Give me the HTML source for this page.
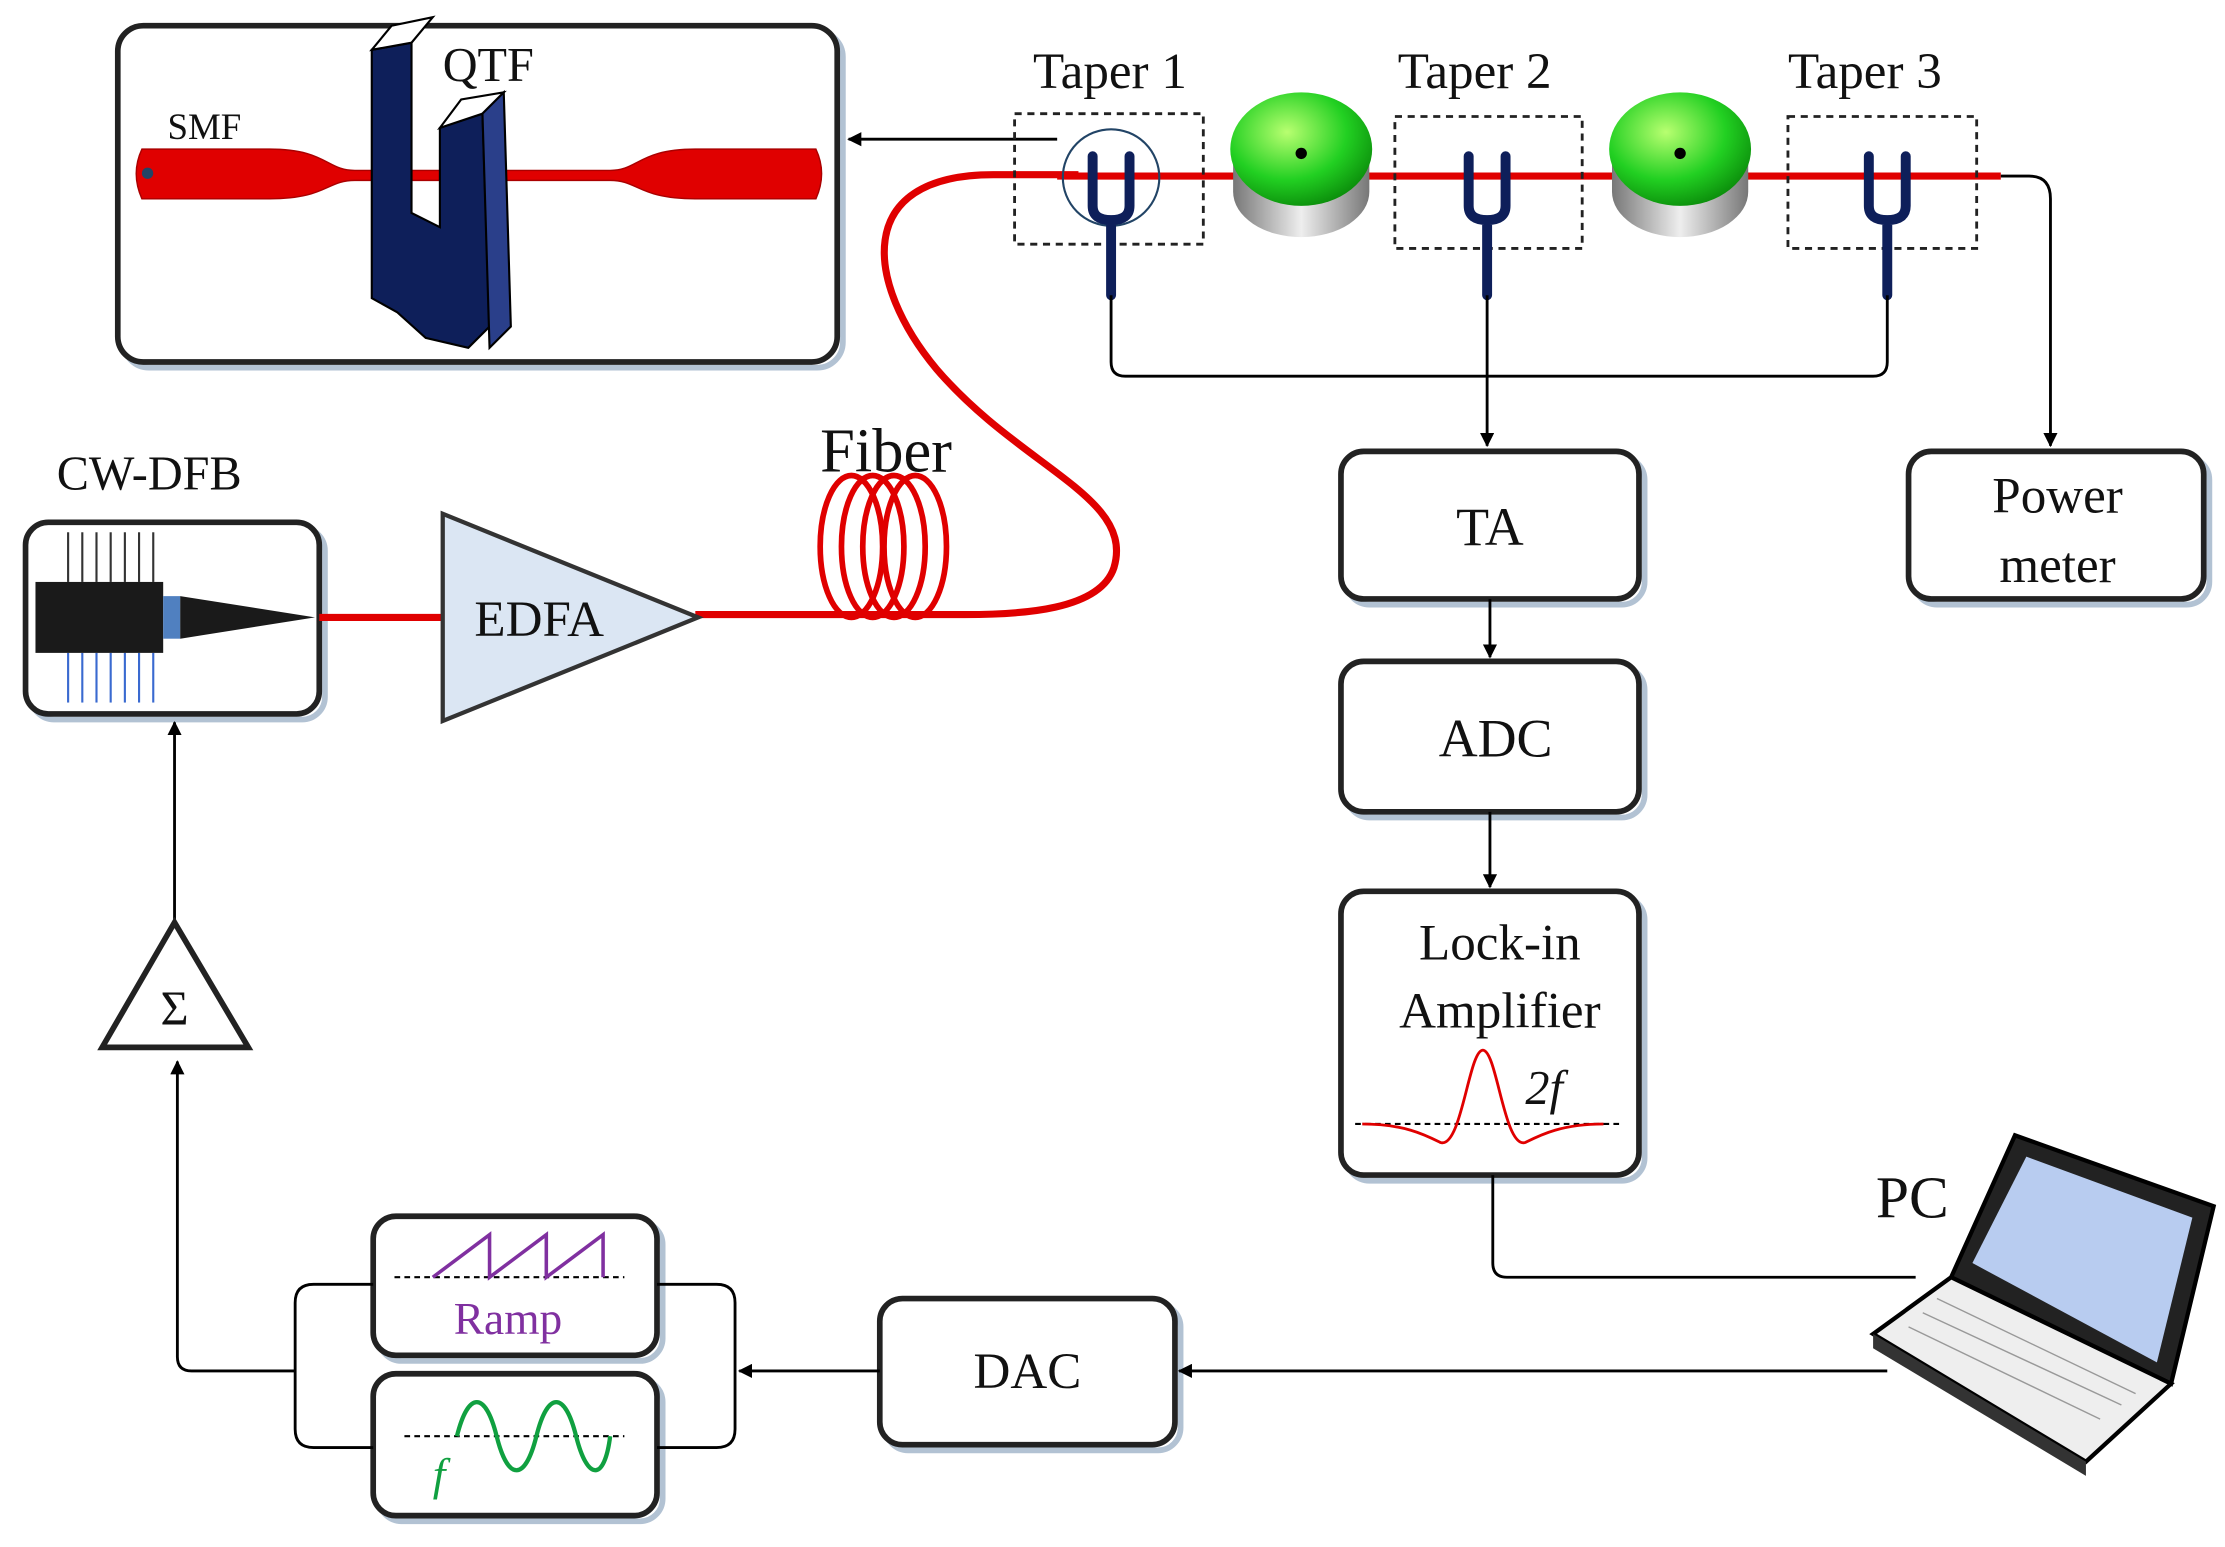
<!DOCTYPE html>
<html><head><meta charset="utf-8"><style>
html,body{margin:0;padding:0;background:#fff;width:2225px;height:1547px;overflow:hidden}
svg{display:block}
text{font-family:"Liberation Serif",serif;fill:#111}
</style></head><body>
<svg width="2225" height="1547" viewBox="0 0 1568 1090" xmlns="http://www.w3.org/2000/svg">
<defs>
<marker id="ar" markerWidth="10" markerHeight="10" refX="9" refY="5" orient="auto" markerUnits="userSpaceOnUse"><path d="M0,0 L10,5 L0,10 z" fill="#000"/></marker>
<radialGradient id="g" cx="0.4" cy="0.35" r="0.7"><stop offset="0" stop-color="#b8ff70"/><stop offset="0.6" stop-color="#22d022"/><stop offset="1" stop-color="#0a8a0a"/></radialGradient>
<linearGradient id="s" x1="0" x2="1"><stop offset="0" stop-color="#777"/><stop offset="0.5" stop-color="#eee"/><stop offset="1" stop-color="#777"/></linearGradient>
</defs>
<g fill="none" stroke="#9fb3c8" stroke-width="4" opacity="0.8">
<rect x="87" y="22" width="507" height="237" rx="18"/>
<rect x="949" y="322" width="210" height="104" rx="16"/>
<rect x="949" y="470" width="210" height="106" rx="16"/>
<rect x="949" y="632" width="210" height="200" rx="16"/>
<rect x="1349" y="322" width="208" height="104" rx="16"/>
<rect x="624" y="919" width="208" height="103" rx="16"/>
<rect x="22" y="372" width="207" height="135" rx="16"/>
<rect x="267" y="861" width="200" height="98" rx="16"/>
<rect x="267" y="972" width="200" height="100" rx="16"/>
</g>
<g fill="#fff" stroke="#222" stroke-width="4">
<rect x="83" y="18" width="507" height="237" rx="18"/>
<rect x="945" y="318" width="210" height="104" rx="16"/>
<rect x="945" y="466" width="210" height="106" rx="16"/>
<rect x="945" y="628" width="210" height="200" rx="16"/>
<rect x="1345" y="318" width="208" height="104" rx="16"/>
<rect x="620" y="915" width="208" height="103" rx="16"/>
<rect x="18" y="368" width="207" height="135" rx="16"/>
<rect x="263" y="857" width="200" height="98" rx="16"/>
<rect x="263" y="968" width="200" height="100" rx="16"/>
</g>
<path d="M100,105 H190 C230,105 230,120 250,120 H430 C450,120 450,105 490,105 H575 Q583,122 575,140 H490 C450,140 450,127 430,127 H250 C230,127 230,140 190,140 H100 Q92,122 100,105 z" fill="#e00000" stroke="#a00" stroke-width="1"/>
<ellipse cx="104" cy="122" rx="4" ry="4" fill="#246"/>
<path d="M262,35 L290,30 L290,150 L310,160 L310,90 L340,80 L345,230 L330,245 L300,238 L280,220 L262,210 z" fill="#0e1f5a" stroke="#000" stroke-width="1.5"/>
<path d="M262,35 L276,18 L305,12 L290,30 z M310,90 L325,70 L355,65 L340,80 z" fill="#fff" stroke="#000" stroke-width="1.5"/>
<path d="M340,80 L355,65 L360,230 L345,245 z" fill="#2a3f8a" stroke="#000" stroke-width="1.5"/>
<text x="118" y="98" font-size="26">SMF</text>
<text x="312" y="57" font-size="34">QTF</text>
<line x1="745" y1="98" x2="598" y2="98" stroke="#000" stroke-width="2" marker-end="url(#ar)"/>
<path d="M760,123 H700 C600,123 610,200 660,260 C720,330 800,350 785,400 C775,430 720,433 680,433 H490" fill="none" stroke="#e00000" stroke-width="5"/>
<line x1="225" y1="435" x2="315" y2="435" stroke="#e00000" stroke-width="5"/>
<g fill="none" stroke="#e00000" stroke-width="4">
<ellipse cx="600" cy="385" rx="22" ry="50"/><ellipse cx="615" cy="385" rx="22" ry="50"/><ellipse cx="630" cy="385" rx="22" ry="50"/><ellipse cx="645" cy="385" rx="22" ry="50"/>
</g>
<text x="578" y="332" font-size="44">Fiber</text>
<line x1="745" y1="124" x2="1410" y2="124" stroke="#e00000" stroke-width="5"/>
<g fill="none" stroke="#222" stroke-width="2" stroke-dasharray="5,4">
<rect x="715" y="80" width="133" height="92"/><rect x="983" y="82" width="132" height="93"/><rect x="1260" y="82" width="133" height="93"/>
</g>
<circle cx="783" cy="125" r="34" fill="none" stroke="#246" stroke-width="1.5"/>
<text x="728" y="62" font-size="36">Taper 1</text>
<text x="985" y="62" font-size="36">Taper 2</text>
<text x="1260" y="62" font-size="36">Taper 3</text>
<g>
<path d="M869,110 V135 A48,32 0 0 0 965,135 V110 z" fill="url(#s)"/>
<ellipse cx="917" cy="105" rx="50" ry="40" fill="url(#g)"/><circle cx="917" cy="108" r="4" fill="#000"/>
<path d="M1136,110 V135 A48,32 0 0 0 1232,135 V110 z" fill="url(#s)"/>
<ellipse cx="1184" cy="105" rx="50" ry="40" fill="url(#g)"/><circle cx="1184" cy="108" r="4" fill="#000"/>
</g>
<g fill="none" stroke="#0e1f5a" stroke-width="7" stroke-linecap="round">
<path d="M770,110 V145 Q770,155 783,155 Q796,155 796,145 V110 M783,155 V208"/>
<path d="M1035,110 V145 Q1035,155 1048,155 Q1061,155 1061,145 V110 M1048,155 V208"/>
<path d="M1317,110 V145 Q1317,155 1330,155 Q1343,155 1343,145 V110 M1330,155 V208"/>
</g>
<g fill="none" stroke="#000" stroke-width="2">
<path d="M783,208 V255 Q783,265 793,265 H1320 Q1330,265 1330,255 V208"/>
<line x1="1048" y1="208" x2="1048" y2="314" marker-end="url(#ar)"/>
<path d="M1410,124 H1430 Q1445,124 1445,140 V314" marker-end="url(#ar)"/>
<line x1="1050" y1="422" x2="1050" y2="463" marker-end="url(#ar)"/>
<line x1="1050" y1="572" x2="1050" y2="625" marker-end="url(#ar)"/>
<path d="M1052,828 V890 Q1052,900 1062,900 H1350"/>
<line x1="1330" y1="966" x2="831" y2="966" marker-end="url(#ar)"/>
<line x1="620" y1="966" x2="521" y2="966" marker-end="url(#ar)"/>
<path d="M463,905 H505 Q518,905 518,918 V1007 Q518,1020 505,1020 H463"/>
<path d="M263,905 H221 Q208,905 208,918 V1007 Q208,1020 221,1020 H263"/>
<path d="M208,966 H135 Q125,966 125,956 V748" marker-end="url(#ar)"/>
<line x1="123" y1="650" x2="123" y2="509" marker-end="url(#ar)"/>
</g>
<text x="1050" y="384" font-size="38" text-anchor="middle">TA</text>
<text x="1054" y="533" font-size="38" text-anchor="middle">ADC</text>
<text x="1057" y="676" font-size="36" text-anchor="middle">Lock-in</text>
<text x="1057" y="724" font-size="36" text-anchor="middle">Amplifier</text>
<text x="1450" y="361" font-size="36" text-anchor="middle">Power</text>
<text x="1450" y="410" font-size="36" text-anchor="middle">meter</text>
<text x="724" y="978" font-size="36" text-anchor="middle">DAC</text>
<text x="40" y="345" font-size="34">CW-DFB</text>
<text x="1322" y="858" font-size="42">PC</text>
<line x1="955" y1="792" x2="1143" y2="792" stroke="#000" stroke-width="1.5" stroke-dasharray="4,3"/>
<path d="M960,792 C990,792 1005,800 1015,805 C1030,810 1035,740 1045,740 C1055,740 1060,810 1075,805 C1085,800 1100,792 1130,792" fill="none" stroke="#e00000" stroke-width="2"/>
<text x="1075" y="778" font-size="34" font-style="italic">2f</text>
<line x1="278" y1="900" x2="440" y2="900" stroke="#000" stroke-width="1.5" stroke-dasharray="4,3"/>
<path d="M305,900 L345,870 V900 L385,870 V900 L425,870 V900" fill="none" stroke="#8030a0" stroke-width="2.5"/>
<text x="358" y="940" font-size="32" text-anchor="middle" style="fill:#8030a0">Ramp</text>
<line x1="285" y1="1012" x2="440" y2="1012" stroke="#000" stroke-width="1.5" stroke-dasharray="4,3"/>
<path d="M322,1012 C330,980 342,980 350,1012 C358,1044 370,1044 378,1012 C386,980 398,980 406,1012 C414,1044 426,1044 430,1012" fill="none" stroke="#10a040" stroke-width="3"/>
<text x="305" y="1050" font-size="32" font-style="italic" style="fill:#10a040">f</text>
<path d="M72,738 L175,738 L123,650 z" fill="#fff" stroke="#222" stroke-width="4"/>
<text x="123" y="722" font-size="34" text-anchor="middle">Σ</text>
<path d="M312,362 L312,508 L492,435 z" fill="#dbe6f3" stroke="#333" stroke-width="3"/>
<text x="380" y="448" font-size="36" text-anchor="middle">EDFA</text>
<g stroke="#333" stroke-width="1.5">
<line x1="48" y1="375" x2="48" y2="410"/><line x1="58" y1="375" x2="58" y2="410"/><line x1="68" y1="375" x2="68" y2="410"/><line x1="78" y1="375" x2="78" y2="410"/><line x1="88" y1="375" x2="88" y2="410"/><line x1="98" y1="375" x2="98" y2="410"/><line x1="108" y1="375" x2="108" y2="410"/>
</g>
<g stroke="#3a6ad0" stroke-width="1.5">
<line x1="48" y1="460" x2="48" y2="495"/><line x1="58" y1="460" x2="58" y2="495"/><line x1="68" y1="460" x2="68" y2="495"/><line x1="78" y1="460" x2="78" y2="495"/><line x1="88" y1="460" x2="88" y2="495"/><line x1="98" y1="460" x2="98" y2="495"/><line x1="108" y1="460" x2="108" y2="495"/>
</g>
<rect x="25" y="410" width="90" height="50" fill="#1a1a1a"/>
<rect x="115" y="420" width="12" height="30" fill="#5080c0"/>
<path d="M127,420 L222,435 L127,450 z" fill="#1a1a1a"/>
<path d="M1375,900 L1420,800 L1560,850 L1530,975 z" fill="#222" stroke="#000" stroke-width="3"/>
<path d="M1390,890 L1428,815 L1545,858 L1520,960 z" fill="#b8ccf0"/>
<path d="M1320,940 L1375,900 L1530,975 L1470,1030 z" fill="#eee" stroke="#000" stroke-width="3"/>
<path d="M1320,940 L1320,950 L1470,1040 L1470,1030 z" fill="#333"/>
<g stroke="#999" stroke-width="1"><line x1="1345" y1="935" x2="1480" y2="1000"/><line x1="1355" y1="925" x2="1495" y2="990"/><line x1="1365" y1="915" x2="1505" y2="982"/></g>
</svg>
</body></html>
